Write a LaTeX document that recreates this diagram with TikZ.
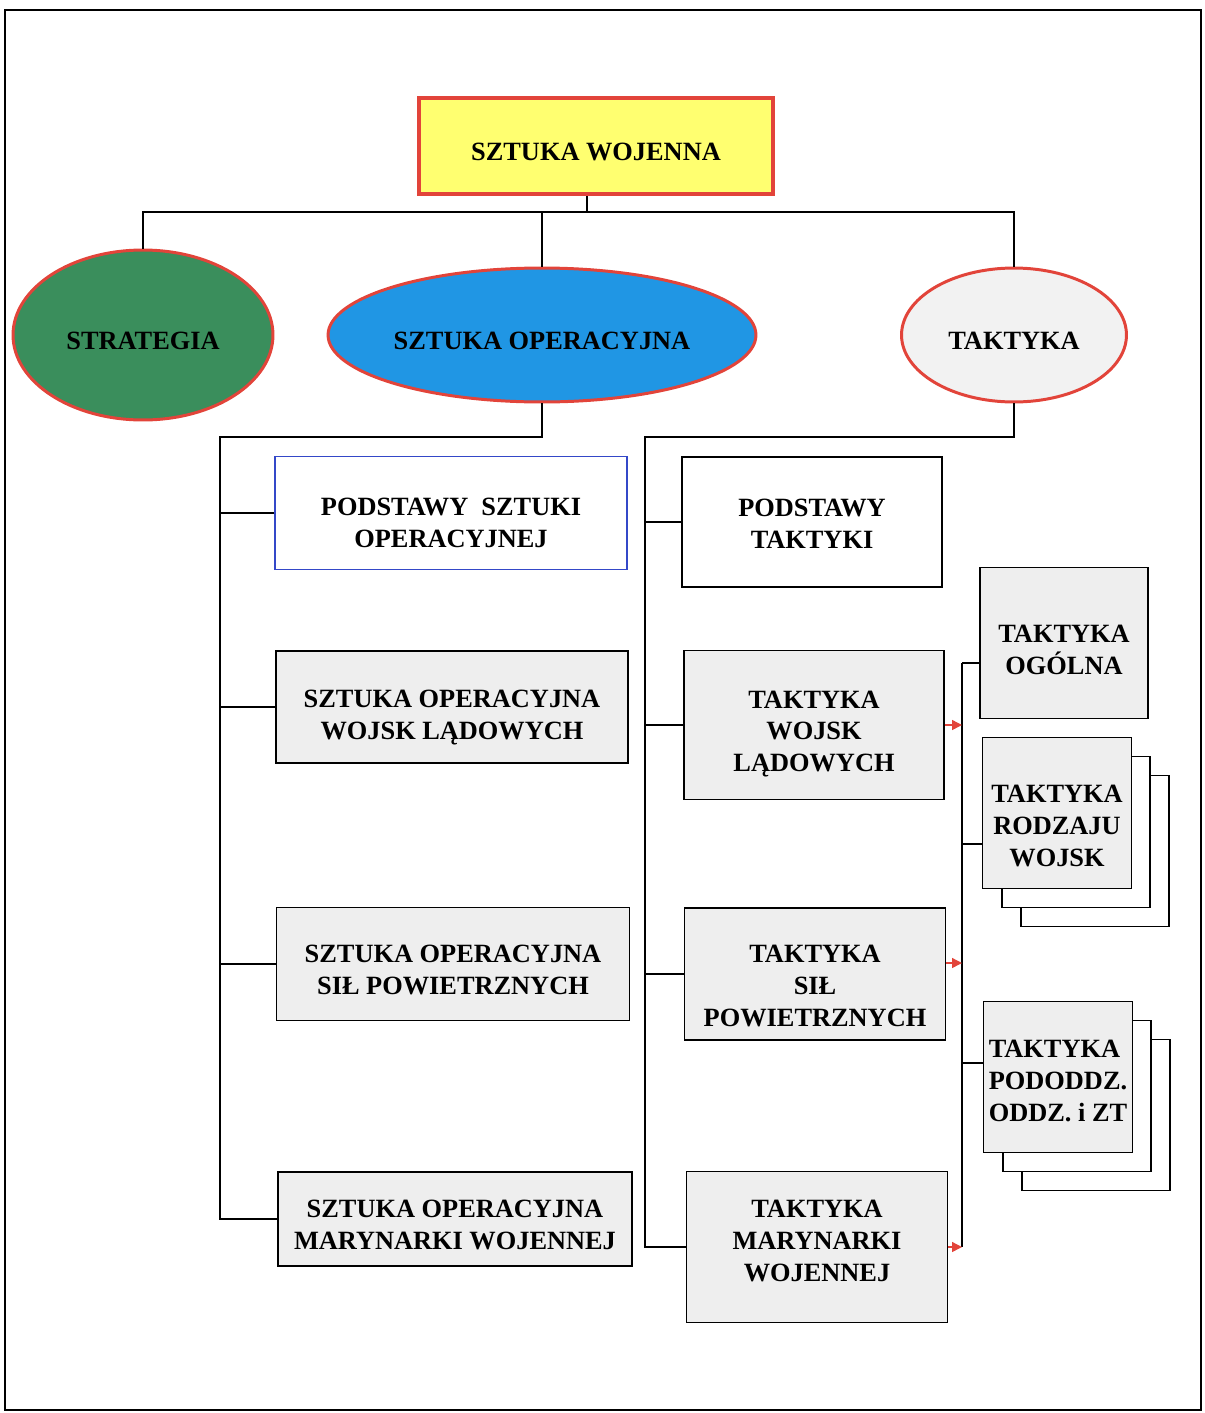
\documentclass[tikz,border=0pt]{standalone}
\usepackage{fontspec}
\setmainfont{Liberation Serif}
\usetikzlibrary{shapes.geometric,arrows.meta}

\definecolor{frameRed}{RGB}{226,68,58}
\definecolor{boxYellow}{RGB}{255,255,112}
\definecolor{stratGreen}{RGB}{58,142,92}
\definecolor{opBlue}{RGB}{32,150,228}
\definecolor{taktGray}{RGB}{242,242,242}
\definecolor{podBlue}{RGB}{52,72,200}
\definecolor{boxGray}{RGB}{238,238,238}

\begin{document}
\begin{tikzpicture}[x=0.02cm, y=-0.02cm,
	line/.style={very thick},
	ntext/.style={font=\bfseries\fontsize{15}{18.2}\selectfont, align=center,
		execute at begin node={\rule{0pt}{0.58cm}}},
	tdown/.style={execute at begin node={\rule{0pt}{#1}}},
	tup/.style={execute at begin node={\rule[-#1]{0pt}{0pt}}},
	oval/.style={ellipse, draw=frameRed, line width=1.7pt, inner sep=0pt, ntext},
	plainbox/.style={rectangle, draw, thick, fill=white, inner sep=2pt, ntext},
	greybox/.style={plainbox, fill=boxGray},
	redarrow/.style={-{Triangle[length=0.2cm,width=0.2cm]}, frameRed, thick}]
	\useasboundingbox (0,0) rectangle (1204,1413);
	\draw[line] (5,10) rectangle (1201,1410);

	% top level
	\node[rectangle, draw=frameRed, line width=2.6pt, fill=boxYellow, minimum width=7.08cm, minimum height=1.92cm, ntext] (wojenna) at (596,146) {SZTUKA WOJENNA};
	\node[oval, fill=stratGreen, minimum width=5.2cm, minimum height=3.4cm] (strategia) at (143,335) {STRATEGIA};
	\node[oval, fill=opBlue, minimum width=8.56cm, minimum height=2.68cm] (operacyjna) at (542,335) {SZTUKA OPERACYJNA};
	\node[oval, fill=taktGray, minimum width=4.5cm, minimum height=2.68cm] (taktyka) at (1014,335) {TAKTYKA};

	% sztuka operacyjna
	\node[plainbox, draw=podBlue, minimum width=7.04cm, minimum height=2.26cm, tdown=39.6pt] (pso) at (451,513) {PODSTAWY\ \ SZTUKI\\OPERACYJNEJ};
	\node[greybox, minimum width=7.04cm, minimum height=2.24cm, tdown=39.6pt] (solad) at (452,707) {SZTUKA OPERACYJNA\\WOJSK LĄDOWYCH};
	\node[greybox, minimum width=7.06cm, minimum height=2.26cm, tdown=35pt] (sopow) at (453,964) {SZTUKA OPERACYJNA\\SIŁ POWIETRZNYCH};
	\node[greybox, minimum width=7.08cm, minimum height=1.88cm, tdown=35pt] (somar) at (455,1219) {SZTUKA OPERACYJNA\\MARYNARKI WOJENNEJ};

	% taktyka
	\node[plainbox, minimum width=5.2cm, minimum height=2.6cm, tdown=30.5pt] (ptakt) at (812,522) {PODSTAWY\\TAKTYKI};
	\node[greybox, minimum width=5.2cm, minimum height=2.98cm, tdown=56.6pt] (tlad) at (814,725) {TAKTYKA\\WOJSK\\LĄDOWYCH};
	\node[greybox, minimum width=5.22cm, minimum height=2.64cm, tdown=60.1pt] (tpow) at (815,974) {TAKTYKA\\SIŁ\\POWIETRZNYCH};
	\node[greybox, minimum width=5.22cm, minimum height=3.02cm, tup=6.8pt] (tmar) at (817,1247) {TAKTYKA\\MARYNARKI\\WOJENNEJ};

	\node[greybox, minimum width=3.36cm, minimum height=3.02cm, tdown=36.2pt] (ogolna) at (1064,643) {TAKTYKA\\OGÓLNA};
	\foreach \k in {2,1}
	{
		\node[plainbox, minimum width=2.96cm, minimum height=3.02cm] (rodzaju\k) at ({1057+19*\k},{813+19*\k}) {};
		\node[plainbox, minimum width=2.96cm, minimum height=3.02cm] (pododdz\k) at ({1058+19*\k},{1077+19*\k}) {};
	}
	\node[greybox, minimum width=2.98cm, minimum height=3.02cm, tdown=61.2pt] (rodzaju) at (1057,813) {TAKTYKA\\RODZAJU\\WOJSK};
	\node[greybox, minimum width=2.98cm, minimum height=3.02cm, align=left, inner sep=1pt, tdown=51pt] (pododdz) at (1058,1077) {TAKTYKA\\PODODDZ.\\ODDZ. i ZT};

	% connectors
	\coordinate (bus) at (587,212);
	\draw[line] (wojenna.south -| bus) -- (bus);
	\draw[line] (strategia.north) |- (bus) -| (taktyka.north);
	\draw[line] (operacyjna.north) -- (operacyjna.north |- bus);

	\coordinate (leftbus) at (220,437);
	\draw[line] (operacyjna.south) |- (leftbus) |- (somar.west);
	\foreach \n in {pso,solad,sopow}
		\draw[line] (\n.west) -- (\n.west -| leftbus);

	\coordinate (midbus) at (645,437);
	\draw[line] (taktyka.south) |- (midbus) |- (tmar.west);
	\foreach \n in {ptakt,tlad,tpow}
		\draw[line] (\n.west) -- (\n.west -| midbus);

	\coordinate (rtop) at (962,663);
	\coordinate (rmid) at (962,844);
	\coordinate (rlow) at (962,1063);
	\coordinate (rbot) at (962,1247);
	\draw[line] (rtop) -- (rbot);
	\draw[line] (rtop) -- (rtop -| ogolna.west);
	\draw[line] (rmid) -- (rmid -| rodzaju.west);
	\draw[line] (rlow) -- (rlow -| pododdz.west);

	\draw[redarrow] (tlad.east) -- (tlad.east -| rtop);
	\draw[redarrow] ([yshift=0.22cm]tpow.east) -- ([yshift=0.22cm]tpow.east -| rtop);
	\draw[redarrow] (tmar.east) -- (tmar.east -| rtop);
\end{tikzpicture}
\end{document}
